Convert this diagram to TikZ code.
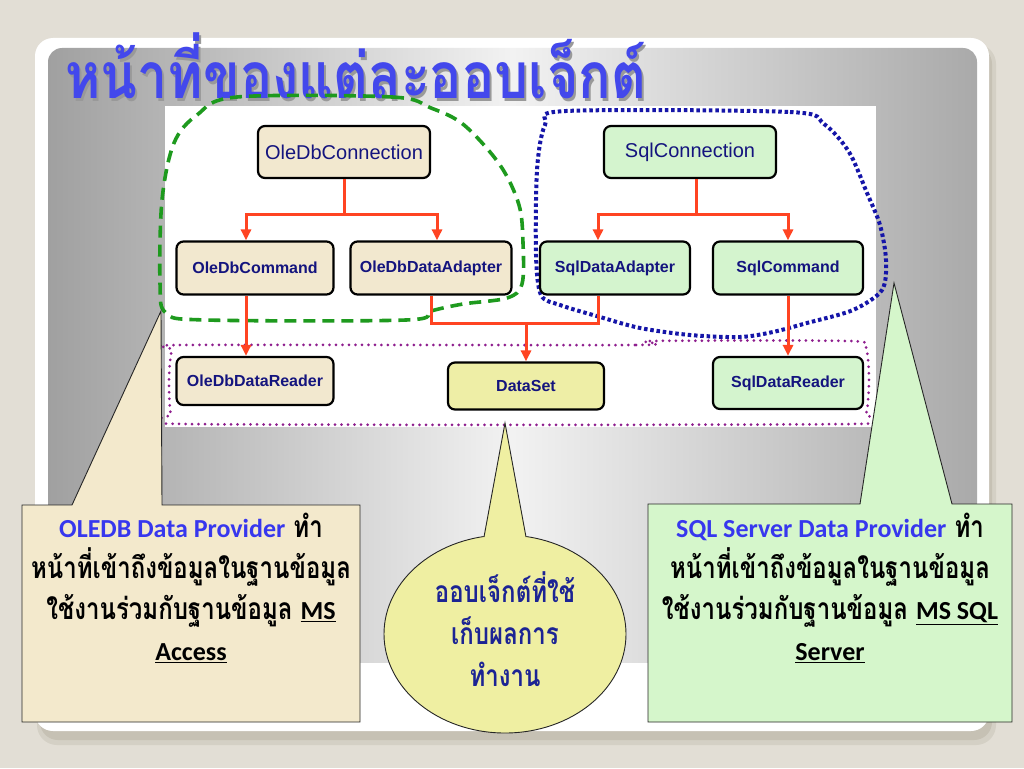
\documentclass[tikz,border=0pt]{standalone}
\usepackage{fontspec}
\setmainfont{Liberation Sans}
\newfontfamily\thaititle[Script=Thai,FakeStretch=0.84]{Loma}
\newfontfamily\thaitext[Script=Thai,FakeStretch=0.8]{Loma}
\newfontfamily\latintext{Carlito}
\newcommand{\latword}[1]{{\latintext\bfseries\fontsize{26}{41}\selectfont #1}}
\newcommand{\shadowed}[1]{\makebox[0pt][l]{\hspace{2pt}\raisebox{-3pt}{\color{black!40}#1}}#1}
\usetikzlibrary{arrows.meta,positioning}
\definecolor{bgbeige}{HTML}{E2DED5}
\definecolor{shadowbeige}{HTML}{C6C1B4}
\definecolor{panelgray}{HTML}{A0A0A0}
\definecolor{panellight}{HTML}{F2F2F2}
\definecolor{titleblue}{HTML}{4348EC}
\definecolor{olefill}{HTML}{F2E8CF}
\definecolor{sqlfill}{HTML}{D4F4CE}
\definecolor{dsfill}{HTML}{EEEEA6}
\definecolor{navy}{HTML}{14147E}
\definecolor{flowred}{HTML}{FF4422}
\definecolor{olegreen}{HTML}{1E9A1E}
\definecolor{sqlblue}{HTML}{1515A8}
\definecolor{dsviolet}{HTML}{8E1E8E}
\definecolor{leftnote}{HTML}{F3E9CC}
\definecolor{rightnote}{HTML}{D5F6CB}
\definecolor{midnote}{HTML}{EFEFA2}
\definecolor{provblue}{HTML}{3737EE}
\definecolor{notenavy}{HTML}{1C2494}
\begin{document}
\begin{tikzpicture}[x=1pt,y=-1pt,
    box/.style={draw=black,line width=2.2pt,rounded corners=7pt,text=navy,
      font=\bfseries\fontsize{16}{18}\selectfont,minimum width=150pt,minimum height=53pt,inner sep=0pt},
    conn/.style={box,font=\fontsize{20}{22}\selectfont,minimum width=172pt,minimum height=52pt},
    flowline/.style={draw=flowred,line width=3pt},
    flow/.style={flowline,-{Triangle[length=11pt,width=10pt]}},
    olezone/.style={draw=olegreen,line width=3.6pt,dash pattern=on 12pt off 7pt},
    sqlzone/.style={draw=sqlblue,line width=4pt,dash pattern=on 3.5pt off 2.8pt},
    dszone/.style={draw=dsviolet,line width=3pt,line cap=round,dash pattern=on 0pt off 6.5pt},
    callout/.style={draw=black!85,line width=0.9pt},
    notetext/.style={align=center,inner sep=0pt,font=\thaitext\bfseries\fontsize{30}{41}\selectfont}]
  \useasboundingbox (0,0) rectangle (1024,768);
  % slide
  \fill[bgbeige] (0,0) rectangle (1024,768);
  \fill[shadowbeige!50!bgbeige,rounded corners=20pt] (37,44) rectangle (996,745);
  \fill[shadowbeige,rounded corners=18pt] (40,46) rectangle (992,740);
  \fill[white,rounded corners=18pt] (35,38) rectangle (989,731);
  \shade[left color=panelgray,right color=panelgray!90!white,middle color=panellight,rounded corners=14pt]
    (48,48) rectangle (977,690);
  \fill[white] (48,663) rectangle (977,700);
  % title
  \node[anchor=base west,font=\thaititle\bfseries\fontsize{64}{70}\selectfont,text=titleblue] (title) at (62,98)
    {\shadowed{หน้าที่ของแต่ละออบเจ็กต์}};
  % diagram
  \fill[white] (165,106) rectangle (876,427);
  \draw[olezone] plot[smooth cycle,tension=0.55] coordinates {(237,97) (392,97) (431,108) (464,125) (500,165) (519,205)
    (523,243) (522,284) (507,298) (463,304) (431,311) (406,320) (206,320) (166,313) (160,283) (162,200) (174,143) (197,115)};
  \draw[sqlzone] plot[smooth cycle,tension=0.5] coordinates {(566,111) (790,112) (824,124) (849,152) (867,193) (880,225)
    (886,260) (882,290) (853,310) (807,323) (773,332) (740,337) (690,335) (640,328) (600,317) (560,305) (541,295)
    (536,255) (537,170) (545,125)};
  \draw[dszone] plot[smooth cycle,tension=0.4] coordinates {(185,345) (636,345) (650,341) (850,341) (866,348) (869,380)
    (866,414) (850,424) (185,424) (171,414) (169,380) (172,350)};
  \node[conn,fill=olefill] (oleconn) at (344,152) {OleDbConnection};
  \node[conn,fill=sqlfill] (sqlconn) at (690,152) {SqlConnection};
  \node[box,fill=olefill,minimum width=157pt] (olecmd) at (255,268) {OleDbCommand};
  \node[box,fill=olefill,minimum width=161pt] (oleadapt) at (431,268) {OleDbDataAdapter};
  \node[box,fill=sqlfill] (sqladapt) at (615,268) {SqlDataAdapter};
  \node[box,fill=sqlfill] (sqlcmd) at (788,268) {SqlCommand};
  \node[box,fill=olefill,minimum width=157pt,minimum height=48pt] (olereader) at (255,381) {OleDbDataReader};
  \node[box,fill=dsfill,minimum width=156pt,minimum height=47pt] (dataset) at (526,386) {DataSet};
  \node[box,fill=sqlfill,minimum height=52pt] (sqlreader) at (788,383) {SqlDataReader};
  % arrows
  \draw[flowline] (oleconn.south) -- ++(0,35) coordinate (olesplit);
  \draw[flow] (olesplit) -| ([xshift=-9pt]olecmd.north);
  \draw[flow] (olesplit) -| ([xshift=6pt]oleadapt.north);
  \draw[flowline] ([xshift=6pt]sqlconn.south) -- ++(0,35) coordinate (sqlsplit);
  \draw[flow] (sqlsplit) -| ([xshift=-17pt]sqladapt.north);
  \draw[flow] (sqlsplit) -| (sqlcmd.north);
  \draw[flow] ([xshift=-9pt]olecmd.south) -- ([xshift=-9pt]olereader.north);
  \draw[flow] (sqlcmd.south) -- (sqlreader.north);
  \draw[flowline] (oleadapt.south) -- ++(0,28) coordinate (dsjoin) -| ([xshift=-17pt]sqladapt.south);
  \draw[flow] (dsjoin -| dataset.north) -- (dataset.north);
  % callouts
  \draw[callout,fill=leftnote] (22,505) -- (72,505) -- (161,311) -- (162,505) -- (360,505) -- (360,722) -- (22,722) -- cycle;
  \draw[callout,fill=rightnote] (648,504) -- (860,504) -- (894,283) -- (952,504) -- (1012,504) -- (1012,722) -- (648,722) -- cycle;
  \coordinate (dsbubble) at (505,634);
  \fill[midnote] (dsbubble) ellipse[x radius=121pt,y radius=99pt];
  \draw[callout] (dsbubble) ellipse[x radius=121pt,y radius=99pt];
  \fill[midnote] (482,546) -- (505,423) -- (528,546) -- cycle;
  \draw[callout] (484,537) -- (505,423) -- (526,537);
  \node[notetext,anchor=north] (oledesc) at (191,513) {\latword{\color{provblue}OLEDB Data Provider} ทำ\\
    หน้าที่เข้าถึงข้อมูลในฐานข้อมูล\\ใช้งานร่วมกับฐานข้อมูล \latword{\underline{MS}}\\\latword{\underline{Access}}};
  \node[notetext,anchor=north] (sqldesc) at (830,513) {\latword{\color{provblue}SQL Server Data Provider} ทำ\\
    หน้าที่เข้าถึงข้อมูลในฐานข้อมูล\\ใช้งานร่วมกับฐานข้อมูล \latword{\underline{MS SQL}}\\\latword{\underline{Server}}};
  \node[notetext,font=\thaitext\bfseries\fontsize{30}{42}\selectfont,text=notenavy] (dsdesc) at (505,629)
    {ออบเจ็กต์ที่ใช้\\เก็บผลการ\\ทำงาน};
\end{tikzpicture}
\end{document}
